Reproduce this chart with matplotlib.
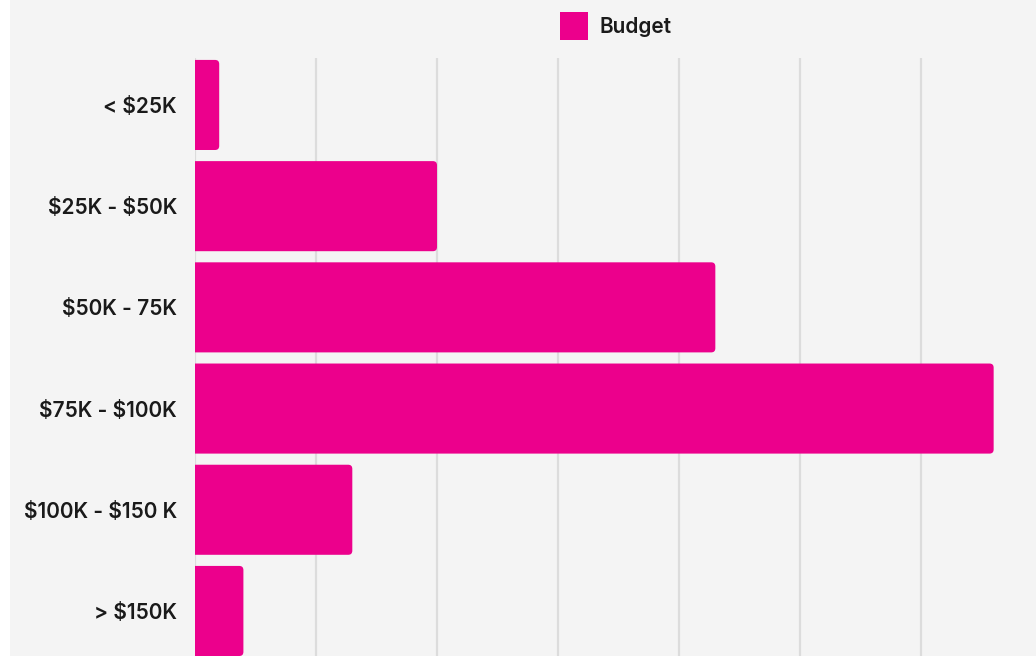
import matplotlib.pyplot as plt
from matplotlib.patches import FancyBboxPatch, Rectangle

plt.rcParams['text.parse_math'] = False

# Budget ranges and their share
categories = ['< $25K', '$25K - $50K', '$50K - 75K', '$75K - $100K', '$100K - $150 K', '> $150K']
budget = [1.0, 10.0, 21.5, 33.0, 6.5, 2.0]

bar_color = '#ec008c'
bg_color = '#f4f4f4'
font = {'family': 'Inter', 'weight': 'semibold', 'size': 15}

fig = plt.figure(figsize=(10.36, 6.56), dpi=100)
fig.patch.set_facecolor(bg_color)
# thin white strip on the left edge
fig.patches.append(Rectangle((0, 0), 10 / 1036, 1, transform=fig.transFigure,
                             facecolor='white', edgecolor='none', zorder=0))

# axes run past the bottom edge, so the last bar is cut off
ax = fig.add_axes([195 / 1036, 0, 841 / 1036, 598 / 656])
ax.set_facecolor(bg_color)

bars = ax.barh(range(len(categories)), budget, height=0.89, color=bar_color)

# swap plain bars for ones with rounded right corners
for b in bars:
    b.set_visible(False)
    x0, y0 = b.get_x(), b.get_y()
    w, h = b.get_width(), b.get_height()
    p = FancyBboxPatch((x0 - 1, y0), w + 1, h,
                       boxstyle='round,pad=0,rounding_size=0.17',
                       mutation_aspect=0.24, facecolor=bar_color,
                       edgecolor='none', zorder=3)
    ax.add_patch(p)

ax.set_xlim(0, 34.75)
ax.set_ylim(5.445, -0.464)
ax.set_xticks([0, 5, 10, 15, 20, 25, 30])
ax.set_yticks(range(len(categories)))
ax.set_yticklabels(categories, color='#1a1a1a', fontfamily=font['family'],
                   fontweight=font['weight'], fontsize=font['size'])
ax.tick_params(axis='y', length=0, pad=13)
ax.tick_params(axis='x', length=0, labelbottom=False)
ax.grid(axis='x', color='#dcdcdc', linewidth=1.6, zorder=0)
ax.set_axisbelow(True)
for s in ax.spines.values():
    s.set_visible(False)

handle = Rectangle((0, 0), 1, 1, facecolor=bar_color, edgecolor='none')
leg = ax.legend([handle], ['Budget'], loc='lower center', bbox_to_anchor=(0.5, 1.0),
                frameon=False, handlelength=1.35, handleheight=1.7, handletextpad=0.55,
                borderaxespad=0.45, prop=font)
for t in leg.get_texts():
    t.set_color('#1a1a1a')

fig.savefig('out.png', dpi=100, facecolor=fig.get_facecolor())
